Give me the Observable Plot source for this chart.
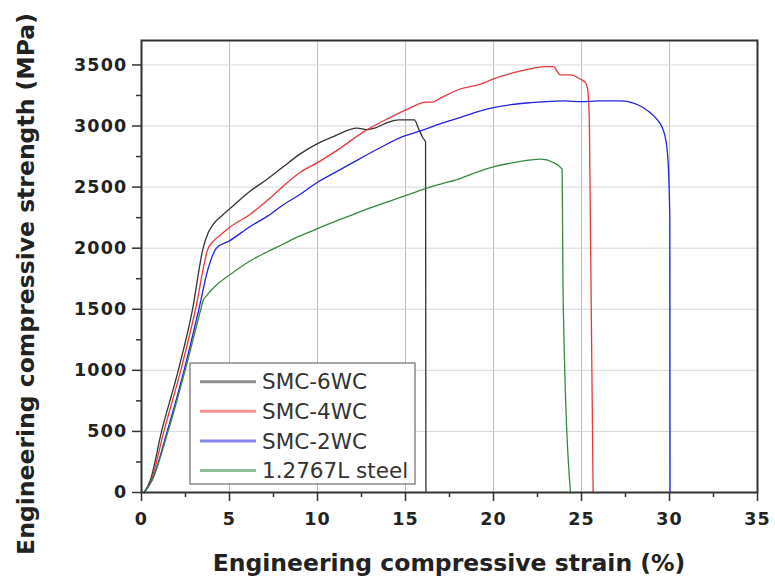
<!DOCTYPE html>
<html>
<head>
<meta charset="utf-8">
<script src="https://cdn.jsdelivr.net/npm/d3@7"></script>
<script src="https://cdn.jsdelivr.net/npm/@observablehq/plot@0.6"></script>
<style>
  html, body { margin: 0; padding: 0; background: #fff; }
  #chart svg { display: block; }
  #chart g[aria-label="y-axis tick label"] text,
  #chart g[aria-label="x-axis tick label"] text { letter-spacing: 1.2px; }
</style>
</head>
<body>
<div id="chart"></div>
<script>
// ---- Data ----
const seriesNames = ["SMC-6WC", "SMC-4WC", "SMC-2WC", "1.2767L steel"];

const strainSMC6 = [0.15, 0.5, 1.14, 2.09, 2.9, 3.5, 3.8, 4.1, 4.6, 5, 6.2, 7.1, 8, 9, 10, 11, 12.25, 12.8, 13.3, 14, 14.6, 15.5, 15.75, 16.0, 16.14, 16.16];
const stressSMC6 = [0, 100, 500, 1000, 1500, 2000, 2130, 2200, 2270, 2320, 2470, 2560, 2660, 2770, 2856, 2920, 2982, 2970, 2985, 3030, 3050, 3050, 2976, 2900, 2870, 0];

const strainSMC4 = [0.15, 0.55, 1.27, 2.23, 3.07, 3.79, 4.1, 4.5, 5, 6.2, 7.14, 8, 9, 10, 11, 12.8, 14, 15, 16.2, 16.5, 17, 18.1, 19.26, 20, 21.15, 22, 22.86, 23.43, 23.6, 23.8, 24.37, 24.94, 25.23, 25.35, 25.45, 25.66];
const stressSMC4 = [0, 100, 500, 1000, 1500, 2000, 2060, 2110, 2170, 2280, 2390, 2500, 2620, 2700, 2790, 2968, 3060, 3130, 3195, 3195, 3230, 3303, 3342, 3385, 3437, 3465, 3486, 3486, 3451, 3418, 3418, 3383, 3355, 3300, 3000, 0];

const strainSMC2 = [0.15, 0.6, 1.46, 2.42, 3.26, 3.8, 4.26, 5, 6.2, 7.14, 8, 9, 10, 11, 12, 13.58, 14.7, 15.85, 17, 18.1, 19.26, 20, 21, 22.1, 23, 24, 25, 26, 27.2, 28, 28.5, 29.1, 29.66, 29.87, 29.96, 30.02, 30.03];
const stressSMC2 = [0, 100, 500, 1000, 1500, 1840, 2000, 2060, 2180, 2260, 2350, 2440, 2540, 2620, 2700, 2824, 2905, 2960, 3020, 3069, 3124, 3150, 3175, 3191, 3200, 3205, 3200, 3205, 3205, 3185, 3151, 3083, 2960, 2797, 2578, 2200, 0];

const strainSteel = [0.15, 0.6, 1.51, 2.48, 3.37, 3.5, 3.7, 4.2, 5, 6.19, 7, 8, 9, 10, 11, 12, 13, 14.15, 15, 16.04, 17, 18.1, 19.26, 20, 21.15, 22, 22.67, 23.4, 23.9, 23.95, 24.37];
const stressSteel = [0, 100, 500, 1000, 1500, 1570, 1611, 1690, 1780, 1897, 1960, 2030, 2100, 2160, 2220, 2275, 2330, 2388, 2430, 2483, 2525, 2570, 2633, 2665, 2701, 2720, 2729, 2701, 2647, 1650, 0];

const xTicks = [0, 5, 10, 15, 20, 25, 30, 35];
const xMinorTicks = [2.5, 7.5, 12.5, 17.5, 22.5, 27.5, 32.5];
const yTicks = [0, 500, 1000, 1500, 2000, 2500, 3000, 3500];
const yMinorTicks = [250, 750, 1250, 1750, 2250, 2750, 3250];
const xGridValues = [5, 10, 15, 20, 25, 30];
const yGridValues = [500, 1000, 1500, 2000, 2500, 3000, 3500];

const xLabel = "Engineering compressive strain (%)";
const yLabel = "Engineering compressive strength (MPa)";

// ---- Styles ----
const seriesColors = ["#333333", "#e8383a", "#2222e0", "#37893f"];
const strains = [strainSMC6, strainSMC4, strainSMC2, strainSteel];
const stresses = [stressSMC6, stressSMC4, stressSMC2, stressSteel];

const rows = seriesNames.flatMap((name, i) =>
  strains[i].map((x, j) => ({series: name, x, y: stresses[i][j]}))
);

const W = 775, H = 584;
const mL = 141, mR = 18, mT = 40, mB = 92;
const tickFont = {fontSize: 17.5, fontWeight: "bold", fontFamily: "DejaVu Sans", fill: "#222"};
const plain = (d) => String(d);

const plot = Plot.plot({
  width: W,
  height: H,
  marginLeft: mL,
  marginRight: mR,
  marginTop: mT,
  marginBottom: mB,
  style: {fontFamily: "DejaVu Sans", background: "#fff", color: "#222", overflow: "visible"},
  x: {domain: [0, 35]},
  y: {domain: [0, 3700]},
  color: {domain: seriesNames, range: seriesColors},
  marks: [
    Plot.gridX(xGridValues, {stroke: "#b8b8e8", strokeOpacity: 1, strokeWidth: 1}),
    Plot.gridY(yGridValues, {stroke: "#d6d6de", strokeOpacity: 1, strokeWidth: 1}),
    Plot.axisX({ticks: xTicks, tickSize: 9, tickPadding: 11, tickFormat: plain, label: null, strokeWidth: 1.5, stroke: "#333", ...tickFont}),
    Plot.axisX({ticks: xMinorTicks, tickSize: 5, tickFormat: () => "", label: null, strokeWidth: 1.5, stroke: "#333"}),
    Plot.axisY({ticks: yTicks, tickSize: 9, tickPadding: 5, tickFormat: plain, label: null, strokeWidth: 1.5, stroke: "#333", ...tickFont}),
    Plot.axisY({ticks: yMinorTicks, tickSize: 5, tickFormat: () => "", label: null, strokeWidth: 1.5, stroke: "#333"}),
    Plot.line(rows, {x: "x", y: "y", z: "series", stroke: "series", strokeWidth: 1.3, curve: "monotone-x"}),
    Plot.frame({stroke: "#333", strokeWidth: 2})
  ]
});

document.getElementById("chart").appendChild(plot);

// ---- Axis titles and legend (added to the same SVG) ----
const svg = d3.select(plot);

svg.append("text")
  .attr("x", (mL + W - mR) / 2)
  .attr("y", 571)
  .attr("text-anchor", "middle")
  .attr("font-family", "DejaVu Sans")
  .attr("font-weight", "bold")
  .attr("font-size", 23.5)
  .attr("fill", "#222")
  .text(xLabel);

svg.append("text")
  .attr("transform", "translate(34,284) rotate(-90)")
  .attr("text-anchor", "middle")
  .attr("font-family", "DejaVu Sans")
  .attr("font-weight", "bold")
  .attr("font-size", 23.5)
  .attr("fill", "#222")
  .text(yLabel);

const legend = svg.append("g").attr("text-anchor", "start");
const lgX = 190, lgY = 363, lgW = 225, lgH = 121, rowH = 29.6, row0 = 381.7;
legend.append("rect")
  .attr("x", lgX).attr("y", lgY).attr("width", lgW).attr("height", lgH)
  .attr("fill", "#fff").attr("stroke", "#777").attr("stroke-width", 1.3);
seriesNames.forEach((name, i) => {
  const cy = row0 + i * rowH;
  legend.append("line")
    .attr("x1", 200).attr("x2", 256).attr("y1", cy).attr("y2", cy)
    .attr("stroke", seriesColors[i]).attr("stroke-width", 3).attr("stroke-opacity", 0.55);
  legend.append("text")
    .attr("x", 262).attr("y", cy)
    .attr("dy", "0.36em")
    .attr("text-anchor", "start")
    .attr("font-family", "DejaVu Sans")
    .attr("font-size", 21.5)
    .attr("fill", "#333")
    .text(name);
});
</script>
</body>
</html>
